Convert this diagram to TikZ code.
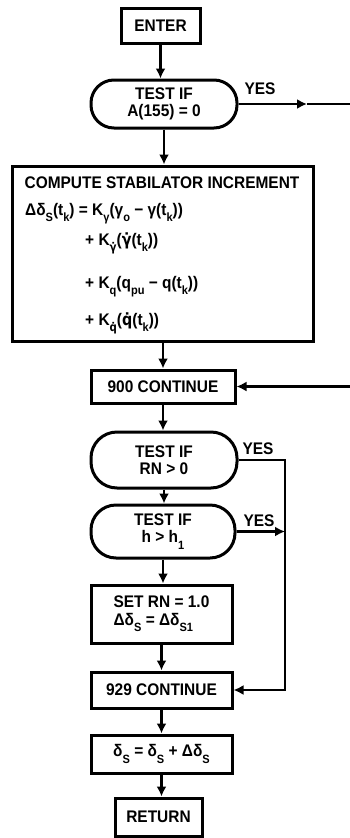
\documentclass[tikz,border=0pt]{standalone}
\usepackage{fontspec}
\setmainfont{Liberation Sans}[FakeStretch=0.92]
\newfontfamily\dvfont{DejaVu Sans}[FakeStretch=0.85]
\usetikzlibrary{arrows.meta}
\newcommand{\lo}[1]{\raisebox{-0.38em}{\fontsize{12}{12}\selectfont #1}}
\newcommand{\dt}[1]{{\dvfont #1^^^^0307}}
\begin{document}
\begin{tikzpicture}[x=1pt,y=-1pt,
  every node/.style={font=\bfseries\fontsize{16.8}{17.5}\selectfont, inner sep=0pt},
  proc/.style={draw, line width=3pt, align=center},
  test/.style={proc, rounded corners=#1},
  flow/.style={line width=2.3pt, -{Latex[length=10pt,width=10pt]}},
  plain/.style={line width=2.3pt}]
\useasboundingbox (0,0) rectangle (350,838);
\fill[white] (0,0) rectangle (350,838);

\node[proc, minimum width=79, minimum height=35] (enter) at (160.5,25.5) {ENTER};
\node[test=23pt, minimum width=146, minimum height=48] (t1) at (164,104) {TEST IF\\A(155) = 0};
\node[proc, minimum width=301, minimum height=175] (comp) at (162.5,253.5) {};
\node[anchor=base] (c0) at (162,188) {COMPUTE STABILATOR INCREMENT};
\node[anchor=base west] (c1) at (25,215) {Δδ\lo{S}(t\lo{k}) = K\lo{γ}(γ\lo{o} − γ(t\lo{k}))};
\node[anchor=base west] (c2) at (85,245) {+ K\lo{\dt{γ}}(\dt{γ}(t\lo{k}))};
\node[anchor=base west] (c3) at (85,288) {+ K\lo{q}(q\lo{pu} − q(t\lo{k}))};
\node[anchor=base west] (c4) at (85,325) {+ K\lo{\dt{q}}(\dt{q}(t\lo{k}))};
\node[proc, minimum width=144, minimum height=33] (n900) at (163,386.5) {900 CONTINUE};
\node[test=26pt, minimum width=146, minimum height=56] (t2) at (164,460) {TEST IF\\RN \textgreater{} 0};
\node[test=25pt, minimum width=144, minimum height=53] (t3) at (163,531.5) {TEST IF\\h \textgreater{} h\lo{1}};
\node[proc, align=left, minimum width=141, minimum height=58] (set) at (161.5,614) {SET RN = 1.0\\Δδ\lo{S} = Δδ\lo{S1}};
\node[proc, minimum width=141, minimum height=36] (n929) at (161.5,690) {929 CONTINUE};
\node[proc, minimum width=141, minimum height=38] (upd) at (161.5,754) {δ\lo{S} = δ\lo{S} + Δδ\lo{S}};
\node[proc, minimum width=87, minimum height=38] (ret) at (158.5,817) {RETURN};

\node (y1) at (260,89) {YES};
\node (y2) at (258,449) {YES};
\node (y3) at (259,521) {YES};

\coordinate (m1) at (307,104);
\coordinate (x1) at (350,104);
\coordinate (x2) at (350,390);
\coordinate (r) at (285,0);

\draw[flow] (enter.south) -- (enter.south |- t1.north);
\draw[flow] (t1.south) -- (t1.south |- comp.north);
\draw[flow] (t1.east) -- (m1);
\draw[plain] (m1) -- (x1);
\draw[flow] (comp.south -| n900.north) -- (n900.north);
\draw[flow] (n900.east -| x2) -- (n900.east);
\draw[flow] (n900.south) -- (n900.south |- t2.north);
\draw[flow] (t2.south) -- (t2.south |- t3.north);
\draw[flow] (t3.south) -- (t3.south |- set.north);
\draw[flow] (set.south) -- (set.south |- n929.north);
\draw[flow] (n929.south) -- (n929.south |- upd.north);
\draw[flow] (upd.south) -- (upd.south |- ret.north);
\draw[flow] (t2.east) -- (t2.east -| r) |- (n929.east);
\draw[flow] (t3.east) -- (t3.east -| r);
\end{tikzpicture}
\end{document}
